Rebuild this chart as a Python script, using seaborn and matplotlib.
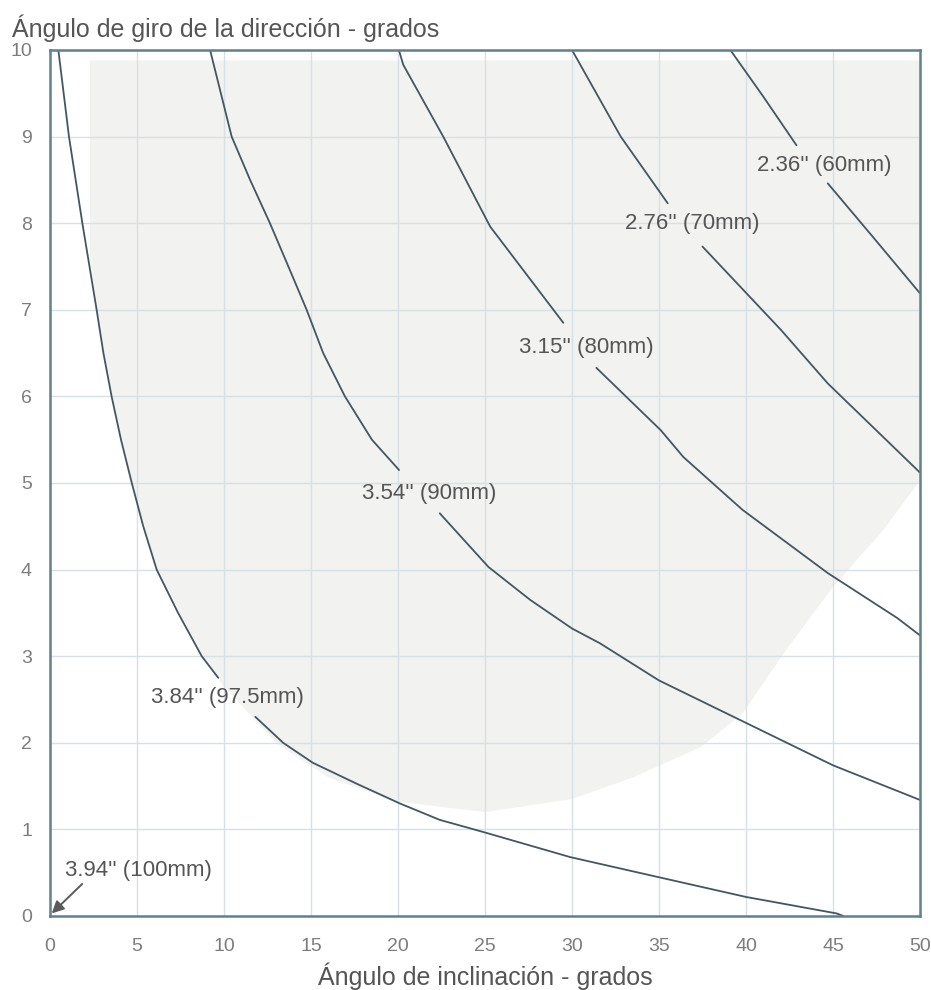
import matplotlib
matplotlib.use("Agg")
import matplotlib.pyplot as plt
import seaborn as sns
import pandas as pd

# ---- data ----
c975_a_x = [0.48, 1.09, 1.86, 2.68, 3.07, 3.54, 4.08, 4.7, 5.36, 6.13, 7.36, 8.72, 9.67]
c975_a_y = [10.0, 9.0, 8.0, 7.0, 6.5, 6.0, 5.5, 5.0, 4.5, 4.0, 3.5, 3.0, 2.75]
c975_b_x = [11.8, 13.4, 15.1, 17.6, 20.1, 22.4, 24.9, 29.9, 34.5, 40.0, 45.2, 45.6]
c975_b_y = [2.3, 2.0, 1.77, 1.53, 1.3, 1.11, 0.97, 0.68, 0.47, 0.22, 0.03, 0.0]

c90_a_x = [9.2, 10.44, 11.5, 12.64, 13.7, 14.75, 15.7, 16.95, 18.5, 20.06]
c90_a_y = [10.0, 9.0, 8.5, 8.0, 7.5, 7.0, 6.5, 6.0, 5.5, 5.15]
c90_b_x = [22.4, 25.2, 27.6, 30.0, 31.6, 35.0, 40.0, 45.0, 50.0]
c90_b_y = [4.65, 4.03, 3.65, 3.32, 3.15, 2.72, 2.23, 1.74, 1.34]

c80_a_x = [20.05, 20.3, 22.6, 25.3, 29.5]
c80_a_y = [10.0, 9.83, 9.0, 7.96, 6.85]
c80_b_x = [31.4, 35.1, 36.4, 39.8, 44.7, 48.7, 50.0]
c80_b_y = [6.33, 5.61, 5.3, 4.69, 3.96, 3.44, 3.24]

c70_a_x = [30.0, 32.8, 35.5]
c70_a_y = [10.0, 9.0, 8.23]
c70_b_x = [37.5, 42.0, 44.7, 50.0]
c70_b_y = [7.73, 6.77, 6.15, 5.12]

c60_a_x = [39.1, 41.0, 42.9]
c60_a_y = [10.0, 9.46, 8.9]
c60_b_x = [44.7, 47.3, 50.0]
c60_b_y = [8.46, 7.84, 7.19]

curve_labels = ["3.84'' (97.5mm)", "3.54'' (90mm)", "3.15'' (80mm)",
                "2.76'' (70mm)", "2.36'' (60mm)"]
label_x = [10.2, 21.8, 30.8, 36.9, 44.5]
label_y = [2.52, 4.88, 6.57, 8.0, 8.67]

point_label = "3.94'' (100mm)"
point_x = [0.1]
point_y = [0.03]
point_label_pos = (0.86, 0.53)
point_arrow_tail = (1.85, 0.37)

# shaded background region (boundary)
shade_x = [2.3, 50.0, 50.0, 47.9, 45.0, 42.4, 39.8, 37.4, 33.5, 30.0, 25.0, 20.0,
           16.0, 13.0, 10.0, 8.72, 6.13, 4.7, 3.54, 2.68, 2.3]
shade_y = [9.88, 9.88, 5.03, 4.46, 3.8, 3.1, 2.34, 1.95, 1.6, 1.35, 1.2, 1.32,
           1.6, 2.0, 2.65, 3.0, 4.0, 5.0, 6.0, 7.0, 7.6]

x_ticks = [0, 5, 10, 15, 20, 25, 30, 35, 40, 45, 50]
y_ticks = [0, 1, 2, 3, 4, 5, 6, 7, 8, 9, 10]

title = "Ángulo de giro de la dirección - grados"
xlabel = "Ángulo de inclinación - grados"

# ---- build tidy table ----
rows = []
segs = [("97.5", "a", c975_a_x, c975_a_y), ("97.5", "b", c975_b_x, c975_b_y),
        ("90", "a", c90_a_x, c90_a_y), ("90", "b", c90_b_x, c90_b_y),
        ("80", "a", c80_a_x, c80_a_y), ("80", "b", c80_b_x, c80_b_y),
        ("70", "a", c70_a_x, c70_a_y), ("70", "b", c70_b_x, c70_b_y),
        ("60", "a", c60_a_x, c60_a_y), ("60", "b", c60_b_x, c60_b_y)]
for curve, seg, xs, ys in segs:
    for x, y in zip(xs, ys):
        rows.append({"curve": curve, "seg": curve + seg, "x": x, "y": y})
df = pd.DataFrame(rows)

# ---- style ----
sns.set_theme(style="white")
plt.rcParams["font.family"] = ["Liberation Sans", "DejaVu Sans"]

LINE = "#44565f"
SPINE = "#5f8190"
GRID = "#d6e0e5"
TEXT = "#555555"
TICK = "#7d7d7d"
SHADE = "#f2f2f1"

fig = plt.figure(figsize=(9.31, 9.90), dpi=100)
ax = fig.add_axes([50 / 931, 74 / 990, 870 / 931, 866 / 990])

ax.fill(shade_x, shade_y, color=SHADE, lw=0, zorder=0)

ax.set_xlim(0, 50)
ax.set_ylim(0, 10)
ax.set_xticks(x_ticks)
ax.set_yticks(y_ticks)
ax.grid(True, color=GRID, lw=1.0, zorder=1)
ax.set_axisbelow(True)

sns.lineplot(data=df, x="x", y="y", units="seg", estimator=None, sort=False,
             color=LINE, lw=1.3, ax=ax, zorder=3, legend=False)

for lab, lx, ly in zip(curve_labels, label_x, label_y):
    ax.text(lx, ly, lab, ha="center", va="center", fontsize=16, color=TEXT, zorder=4)

ax.text(point_label_pos[0], point_label_pos[1], point_label, ha="left", va="center",
        fontsize=16, color=TEXT, zorder=4)
ax.annotate("", xy=(point_x[0], point_y[0]), xytext=point_arrow_tail,
            arrowprops=dict(arrowstyle="-|>", color="#5a5a5a", lw=1.4,
                            mutation_scale=18, shrinkA=0, shrinkB=0),
            annotation_clip=False, zorder=4)

for s in ax.spines.values():
    s.set_color(SPINE)
    s.set_linewidth(1.8)
    s.set_zorder(5)

ax.tick_params(axis="both", direction="out", length=9, width=1.6, color=SPINE,
               labelsize=14, labelcolor=TICK, pad=4)
ax.tick_params(axis="x", pad=7)
ax.set_xlabel(xlabel, fontsize=18, color=TEXT, labelpad=5)
ax.set_ylabel("")

fig.text(12 / 931, 1 - 28 / 990, title, ha="left", va="center", fontsize=18, color=TEXT)

fig.savefig("out.png", dpi=100, facecolor="white")
